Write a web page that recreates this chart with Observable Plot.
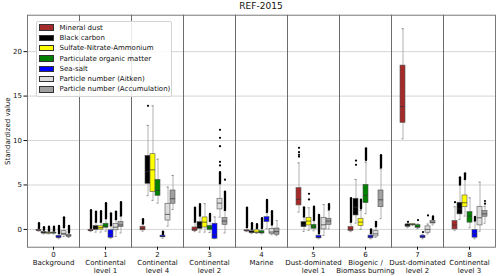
<!DOCTYPE html>
<html>
<head>
<meta charset="utf-8">
<script src="https://cdn.jsdelivr.net/npm/d3@7"></script>
<script src="https://cdn.jsdelivr.net/npm/@observablehq/plot@0.6"></script>
<style>
  body { margin: 0; background: #fff; font-family: "DejaVu Sans", sans-serif; }
  #wrap { position: relative; width: 500px; height: 276px; }
  #title { position: absolute; left: 27px; width: 468px; top: 1px; text-align: center; font-size: 9px; color: #111; }
  #legend { position: absolute; left: 35.5px; top: 20.5px; width: 134px; padding: 1px 0 1px 0;
            border: 1px solid #d4d4d4; border-radius: 2px; background: rgba(255,255,255,0.85); font-size: 7px; color: #111; }
  .li { display: flex; align-items: center; height: 10.3px; }
  .sw { width: 13px; height: 4.5px; margin-left: 2.5px; margin-right: 5.5px; border: 0.8px solid #333; }
</style>
</head>
<body>
<div id="wrap">
  <div id="title">REF-2015</div>
  <div id="chart"></div>
  <div id="legend"></div>
</div>
<script>
// Categories (cluster id + name)
const categories = ["0", "1", "2", "3", "4", "5", "6", "7", "8"];
const categoryLabels = ["0\nBackground", "1\nContinental\nlevel 1", "2\nContinental\nlevel 4", "3\nContinental\nlevel 2",
  "4\nMarine", "5\nDust-dominated\nlevel 1", "6\nBiogenic /\nBiomass burning", "7\nDust-dominated\nlevel 2", "8\nContinental\nlevel 3"];
const variables = ["Mineral dust", "Black carbon", "Sulfate-Nitrate-Ammonium", "Particulate organic matter",
  "Sea-salt", "Particle number (Aitken)", "Particle number (Accumulation)"];
const colors = ["#a52a2a", "#000000", "#ffff00", "#008000", "#0000ff", "#dcdcdc", "#a0a0a0"];
const yTicks = [0, 5, 10, 15, 20];

// Box statistics per variable, one tuple per category: [whiskerLow, q1, median, q3, whiskerHigh]
const mineralDust = [[-0.2,-0.15,-0.1,-0.05,0.1],[-0.25,-0.18,-0.12,-0.05,0.1],[-0.2,-0.1,0.1,0.3,0.6],[-0.25,-0.18,0,0.22,0.8],
  [-0.25,-0.2,-0.15,-0.1,0.2],[1.95,2.7,3.37,4.64,7.49],[-0.25,-0.18,0,0.26,0.8],[10.19,11.99,13.82,18.43,22.58],[-0.1,0,0.48,0.94,2.55]];
const blackCarbon = [[-0.5,-0.45,-0.38,-0.3,-0.1],[-0.3,-0.05,0.15,0.37,0.8],[3.8,5.13,6.5,8.28,11.7],[-0.3,0.07,0.4,0.82,1.5],
  [-0.45,-0.4,-0.3,-0.2,0.0],[-0.22,0.26,0.5,0.82,1.4],[0.71,1.57,2.5,3.45,5.62],[0.2,0.3,0.45,0.56,0.65],[1.12,1.69,2.3,3.0,4.98]];
const sulfate = [[-0.5,-0.45,-0.4,-0.35,-0.2],[-0.3,-0.02,0.2,0.35,0.8],[3.26,4.2,6.7,8.46,13.9],[-0.3,0.22,0.82,1.35,2.89],
  [-0.45,-0.4,-0.3,-0.1,0.1],[-0.1,0.45,0.94,1.31,2.43],[0,0.37,0.82,1.2,2.13],[0.45,0.5,0.55,0.6,0.65],[1.5,2.5,3.0,3.82,5.62]];
const organic = [[-0.5,-0.45,-0.4,-0.35,-0.2],[-0.2,0.19,0.35,0.64,1.2],[2.96,3.78,4.38,5.58,7.9],[-0.35,-0.07,0.2,0.41,0.9],
  [-0.5,-0.45,-0.35,-0.2,0.1],[-0.15,0.07,0.3,0.52,1.0],[1.76,2.96,3.82,5.02,7.57],[0.1,0.19,0.3,0.48,0.6],[0.19,0.76,1.5,1.95,3.56]];
const seaSalt = [[-1.05,-0.97,-0.85,-0.72,-0.5],[-1.0,-0.94,-0.6,-0.1,0.4],[-0.98,-0.88,-0.8,-0.7,-0.6],[-1.05,-1.05,-0.6,0.64,1.4],
  [0.07,0.82,1.1,1.38,1.9],[-1.05,-1.0,-0.9,-0.71,-0.5],[-1.05,-1.0,-0.85,-0.7,-0.5],[-1.05,-0.97,-0.85,-0.71,-0.6],[-1.05,-0.93,-0.5,-0.07,0.94]];
const aitken = [[-0.8,-0.65,-0.45,-0.2,0.2],[-0.8,-0.1,0.25,0.6,1.1],[0.37,1.0,1.69,2.89,4.76],[1.38,2.25,2.96,3.45,5.13],
  [-0.6,-0.49,-0.3,0.07,0.5],[-0.67,0,0.52,1.31,2.8],[-0.9,-0.79,-0.5,-0.2,0.3],[-0.5,-0.37,0,0.34,0.6],[-0.2,0.45,1.31,2.55,5.32]];
const accumulation = [[-0.9,-0.82,-0.72,-0.62,-0.4],[-0.4,0.26,0.5,0.82,1.5],[2.25,2.89,3.45,4.38,6.07],[-0.4,0.52,0.94,1.27,2.13],
  [-0.7,-0.6,-0.25,0.1,1.0],[0.07,0.52,0.94,1.2,2.13],[1.2,2.5,3.33,4.38,6.82],[0.5,0.67,0.8,0.94,1.1],[0.7,1.43,1.75,2.06,2.6]];

// Dense outlier stacks: [category, variableIndex, from, to]
const outlierStacks = [
  [0,0,0.1,0.64],[0,1,-0.1,0.2],[0,2,-0.2,0.25],[0,3,-0.2,0.25],[0,4,-0.5,0.33],[0,5,0.2,1.3],[0,6,-0.4,0.35],
  [1,0,0.1,2.1],[1,1,0.8,1.95],[1,2,0.8,2.0],[1,3,1.2,2.9],[1,4,0.4,1.75],[1,5,1.1,1.95],[1,6,1.5,3.0],
  [2,0,0.6,1.1],[2,4,-0.6,-0.3],
  [3,0,0.8,2.4],[3,1,1.5,2.8],[3,3,0.9,1.7],[3,5,5.13,6.4],[3,6,2.13,4.2],
  [4,0,0.2,2.4],[4,1,0.0,0.64],[4,2,0.1,0.55],[4,3,0.1,1.2],[4,4,1.9,3.26],[4,5,0.5,2.0],
  [5,1,1.4,2.43],[5,3,1.0,2.5],[5,4,-0.5,1.57],[5,6,2.2,2.8],
  [6,0,0.8,3.45],[6,2,2.3,3.3],[6,3,7.75,9.07],[6,4,-0.5,-0.05],[6,5,0.3,0.8],[6,6,6.9,8.3],
  [7,6,1.1,1.4],
  [8,1,5.0,5.8],[8,2,5.6,6.25],[8,4,0.94,1.35]
];
// Isolated outliers: [category, variableIndex, value]
const outliers = [
  [2,1,13.9],
  [3,5,7.2],[3,5,7.6],[3,5,9.36],[3,5,10.3],[3,5,11.2],[3,6,5.6],
  [5,0,8.2],[5,0,8.39],[5,0,8.69],[5,0,9.18],[5,2,3.37],[5,2,4.0],
  [6,1,7.27],[6,1,7.75],
  [7,1,0.86],[7,3,1.05],[7,4,-0.3],[7,5,1.57],
  [8,0,3.07],[8,6,2.9],[8,6,3.2]
];

const series = [mineralDust, blackCarbon, sulfate, organic, seaSalt, aitken, accumulation];
const rows = [];
series.forEach((s, vi) => s.forEach((t, ci) => rows.push({
  cat: categories[ci], variable: variables[vi], wlo: t[0], q1: t[1], med: t[2], q3: t[3], whi: t[4]
})));
const stackRows = outlierStacks.map(([c, v, a, b]) => ({cat: categories[c], variable: variables[v], a, b}));
const dotRows = outliers.map(([c, v, y]) => ({cat: categories[c], variable: variables[v], y}));
const labelOf = Object.fromEntries(categories.map((c, i) => [c, categoryLabels[i]]));

const chart = Plot.plot({
  width: 500, height: 276,
  marginLeft: 27, marginRight: 4.5, marginTop: 14.7, marginBottom: 29.3,
  style: {fontFamily: "DejaVu Sans, sans-serif", fontSize: "7px", color: "#111", background: "transparent"},
  fx: {domain: categories, padding: 0},
  x: {domain: variables, paddingInner: 0, paddingOuter: 0.97, axis: null},
  y: {domain: [-2, 24.1]},
  color: {domain: variables, range: colors},
  marks: [
    Plot.gridY(yTicks, {stroke: "#d0d0d0", strokeOpacity: 1, strokeWidth: 0.9}),
    Plot.ruleX(rows, {fx: "cat", x: "variable", y1: "wlo", y2: "whi", stroke: "#a0a0a0", strokeWidth: 0.8}),
    Plot.tickY(rows, {fx: "cat", x: "variable", y: "wlo", stroke: "#777", strokeWidth: 0.8, insetLeft: 1.5, insetRight: 1.5}),
    Plot.tickY(rows, {fx: "cat", x: "variable", y: "whi", stroke: "#777", strokeWidth: 0.8, insetLeft: 1.5, insetRight: 1.5}),
    Plot.ruleX(stackRows, {fx: "cat", x: "variable", y1: "a", y2: "b", stroke: "#000", strokeWidth: 2.3, strokeLinecap: "round"}),
    Plot.dot(dotRows, {fx: "cat", x: "variable", y: "y", r: 1.1, fill: "#000", stroke: null}),
    Plot.barY(rows, {fx: "cat", x: "variable", y1: "q1", y2: "q3", fill: "variable", stroke: "#555", strokeWidth: 0.6}),
    Plot.tickY(rows, {fx: "cat", x: "variable", y: "med", stroke: "#333", strokeWidth: 0.7}),
    Plot.frame({stroke: "#6a6a6a", strokeWidth: 0.9}),
    Plot.axisY({ticks: yTicks, tickSize: 3.5, tickPadding: 2, fontSize: 7, label: "Standardized value", labelAnchor: "center", labelArrow: "none", labelOffset: 22}),
    Plot.axisFx({anchor: "bottom", tickFormat: d => labelOf[d], tickSize: 3, tickPadding: 1.5, fontSize: 7, lineHeight: 1.12, label: null})
  ]
});
document.getElementById("chart").appendChild(chart);

const legend = document.getElementById("legend");
variables.forEach((v, i) => {
  const row = document.createElement("div");
  row.className = "li";
  const sw = document.createElement("span");
  sw.className = "sw";
  sw.style.background = colors[i];
  const tx = document.createElement("span");
  tx.textContent = v;
  row.appendChild(sw); row.appendChild(tx);
  legend.appendChild(row);
});
</script>
</body>
</html>
